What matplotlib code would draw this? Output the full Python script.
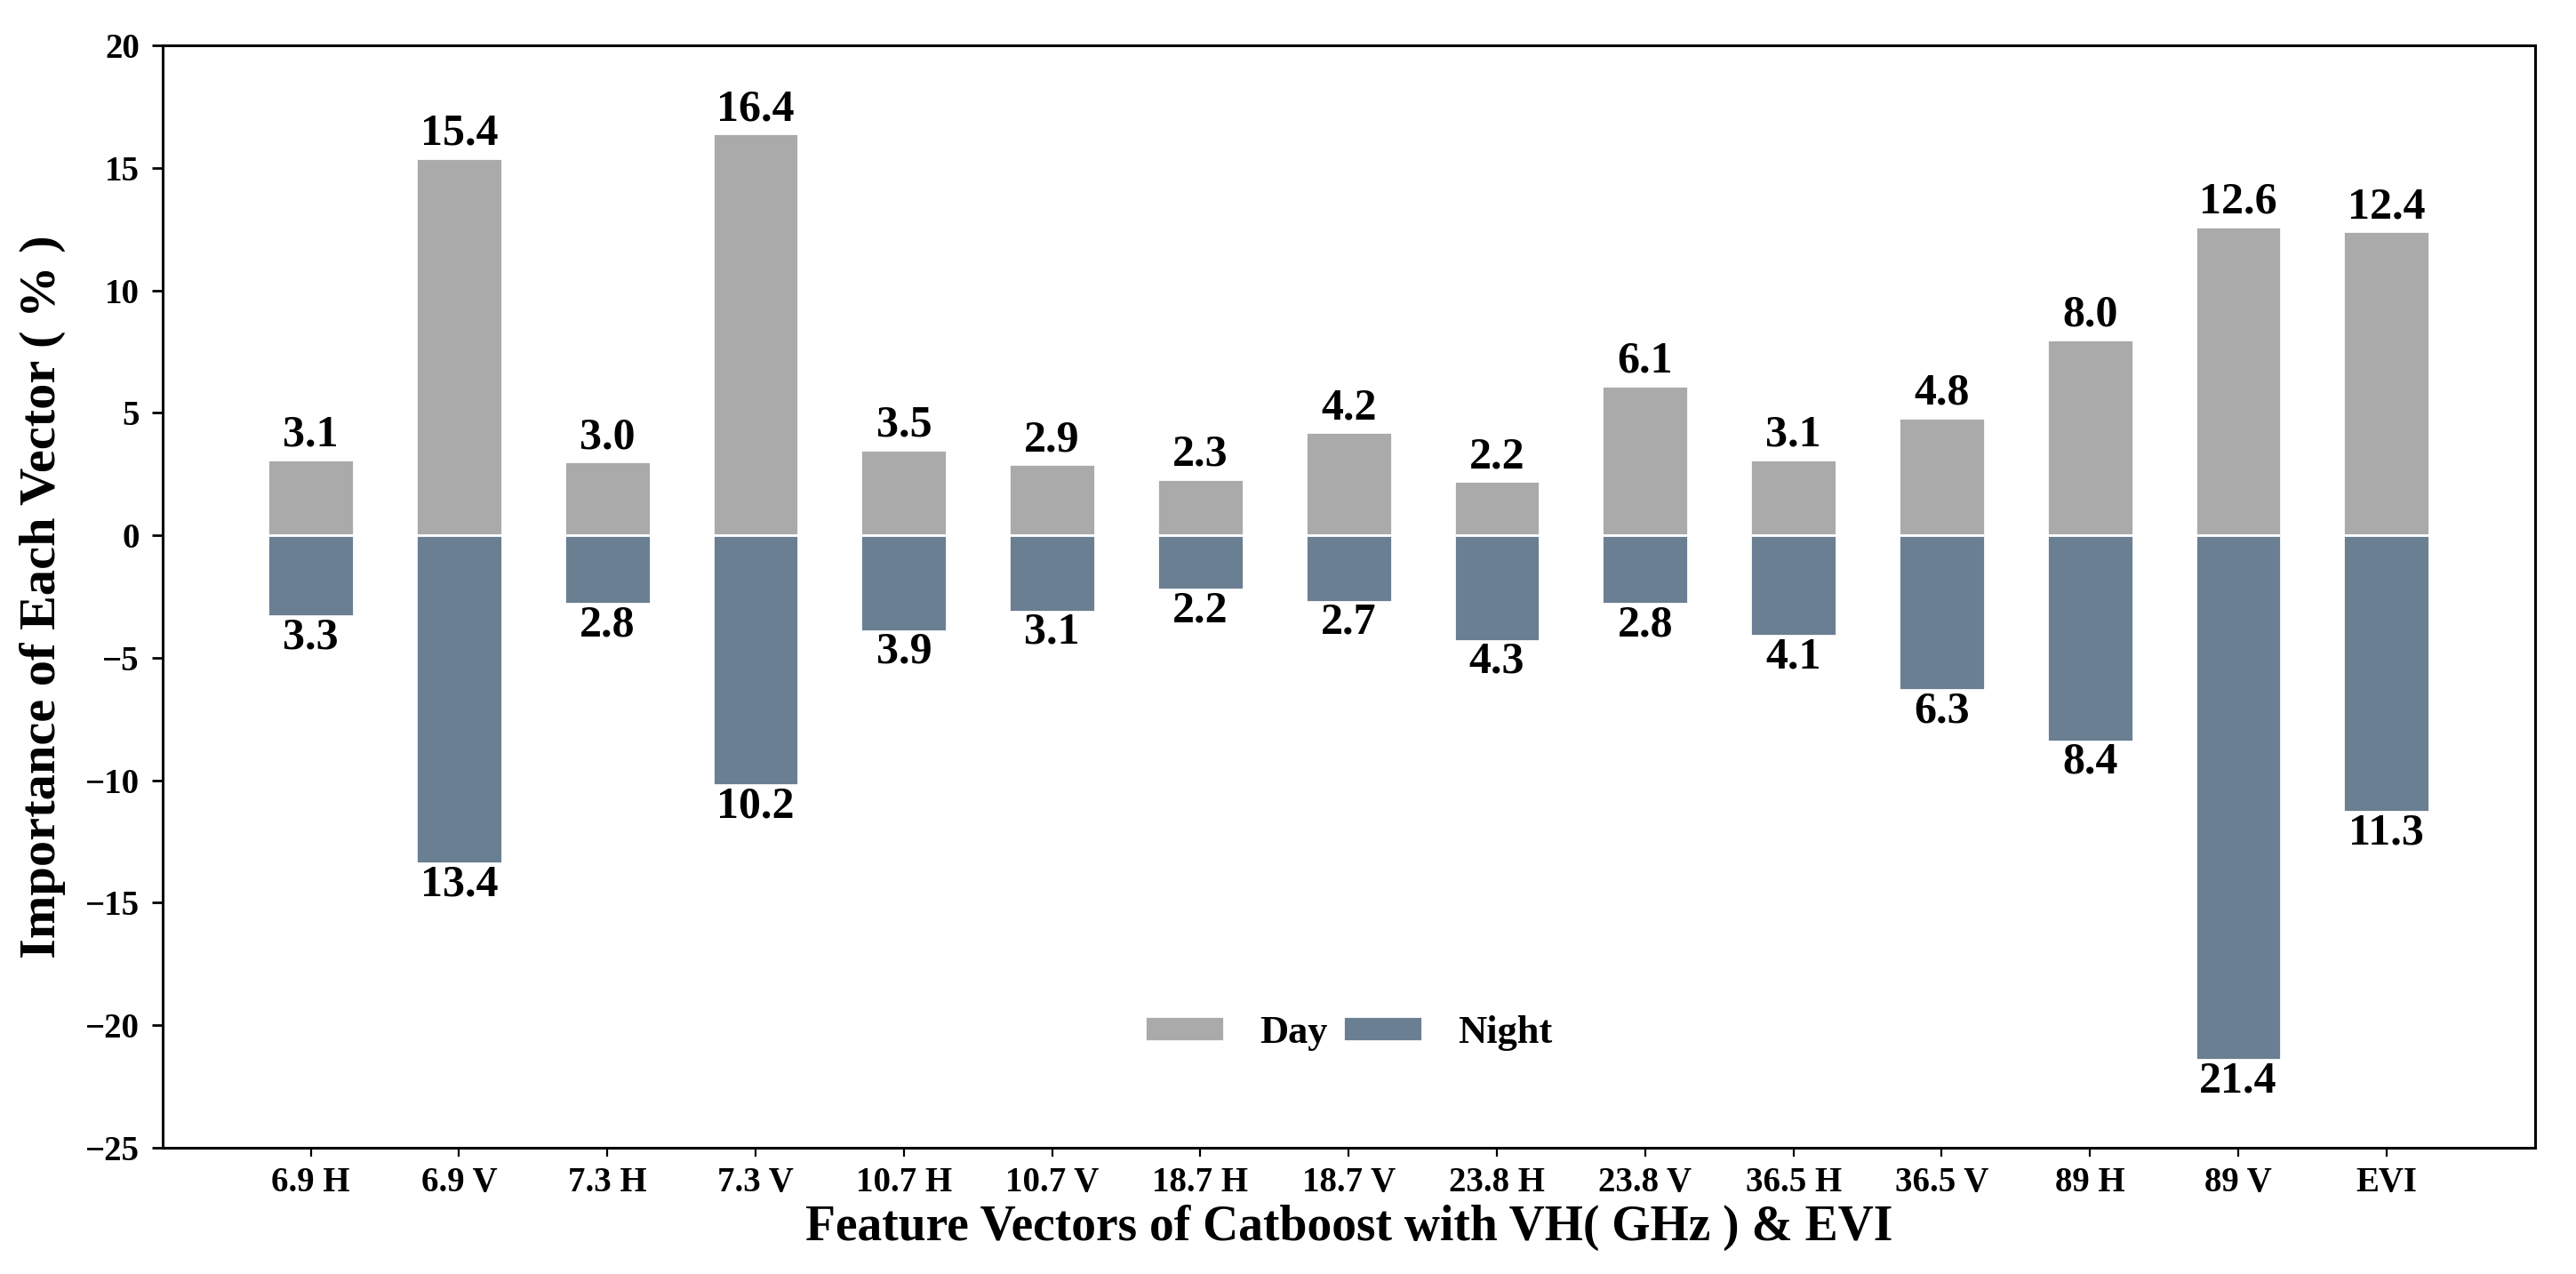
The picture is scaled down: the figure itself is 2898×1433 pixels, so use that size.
import matplotlib
matplotlib.use('Agg')
import matplotlib.pyplot as plt
import numpy as np

features = ['6.9 H', '6.9 V', '7.3 H', '7.3 V', '10.7 H', '10.7 V', '18.7 H', '18.7 V',
            '23.8 H', '23.8 V', '36.5 H', '36.5 V', '89 H', '89 V', 'EVI']
day = [3.1, 15.4, 3.0, 16.4, 3.5, 2.9, 2.3, 4.2, 2.2, 6.1, 3.1, 4.8, 8.0, 12.6, 12.4]
night = [3.3, 13.4, 2.8, 10.2, 3.9, 3.1, 2.2, 2.7, 4.3, 2.8, 4.1, 6.3, 8.4, 21.4, 11.3]

plt.rcParams['font.family'] = ['Liberation Serif', 'DejaVu Serif']
plt.rcParams['font.weight'] = 'bold'

fig, ax = plt.subplots(figsize=(14.49, 7.165), dpi=200)
fig.subplots_adjust(left=0.0631, right=0.984, top=0.9644, bottom=0.0991)

x = np.arange(len(features))
w = 0.58
ax.bar(x, day, width=w, color='#aaaaaa', edgecolor='white', linewidth=1, label='Day')
ax.bar(x, -np.array(night), width=w, color='#6a7f92', edgecolor='white', linewidth=1, label='Night')

# value labels: day above, night below
for xi, v in zip(x, day):
    ax.annotate(f'{v:.1f}', (xi, v), xytext=(0, 1.5), textcoords='offset points',
                ha='center', va='bottom', fontsize=18, fontweight='bold')
for xi, v in zip(x, night):
    ax.annotate(f'{v:.1f}', (xi, -v), xytext=(0, -0.5), textcoords='offset points',
                ha='center', va='top', fontsize=18, fontweight='bold')

ax.set_xlim(-1, 15)
ax.set_ylim(-25, 20)
ax.set_yticks(np.arange(-25, 21, 5))
ax.set_xticks(x)
ax.set_xticklabels(features)
ax.tick_params(axis='y', labelsize=14, length=4.3, width=1, pad=5)
ax.tick_params(axis='x', labelsize=14, length=3.5, width=0.8, pad=4)
for s in ax.spines.values():
    s.set_linewidth(1.1)

ax.set_ylabel('Importance of Each Vector ( % )', fontsize=21, fontweight='bold', labelpad=8)
ax.set_xlabel('Feature Vectors of Catboost with VH( GHz ) & EVI', fontsize=20, fontweight='bold', labelpad=2)

ax.legend(loc='center', bbox_to_anchor=(0.5, 0.104), ncol=2, frameon=False, fontsize=16,
          handlelength=2.0, handleheight=0.6, handletextpad=0.9, columnspacing=0.4)

fig.savefig('out.png', dpi=200)
